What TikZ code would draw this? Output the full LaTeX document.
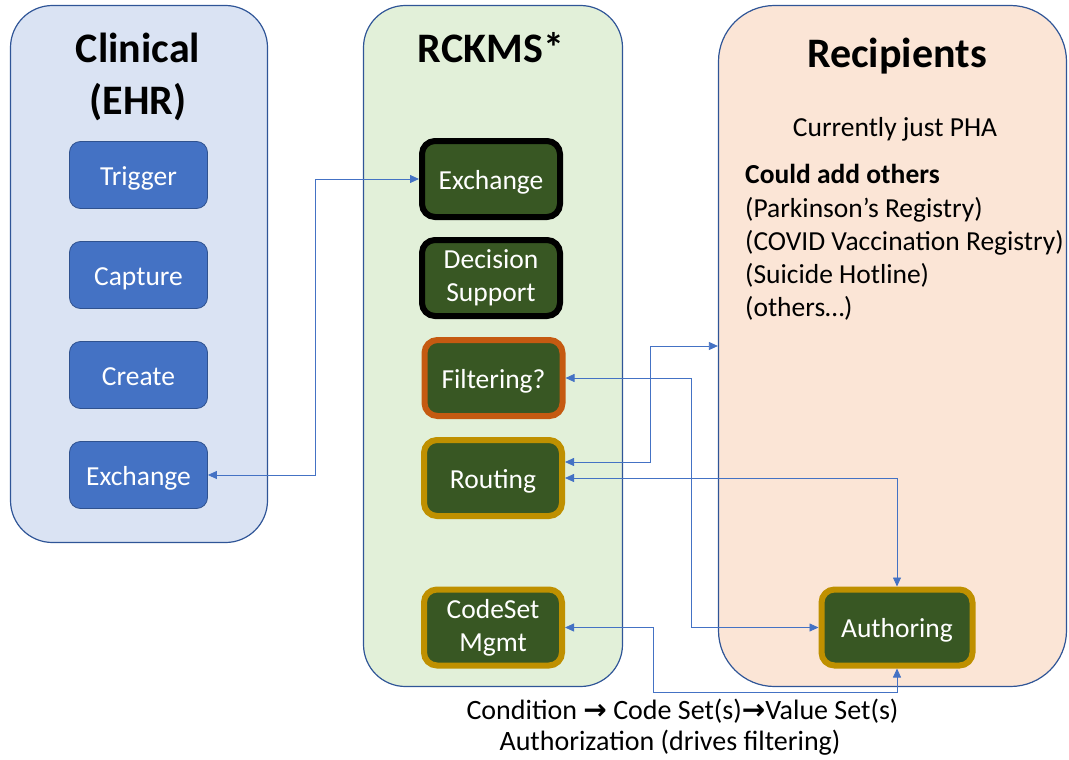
\documentclass[tikz,border=0pt]{standalone}
\usepackage{fontspec}
\setmainfont{Carlito}
\newfontfamily\arrowfont{DejaVu Sans}
\usetikzlibrary{arrows.meta}
\definecolor{ehrfill}{HTML}{DAE3F3}
\definecolor{svcfill}{HTML}{E2F0D9}
\definecolor{recfill}{HTML}{FBE5D6}
\definecolor{panelline}{HTML}{2F5597}
\definecolor{ehrblue}{HTML}{4472C4}
\definecolor{ehrline}{HTML}{2F528F}
\definecolor{svcgreen}{HTML}{385723}
\definecolor{orangeline}{HTML}{C55A11}
\definecolor{goldline}{HTML}{BF9000}
\definecolor{linkblue}{HTML}{4472C4}
\tikzset{
  panel/.style={draw=panelline, line width=1.2pt, rounded corners=42pt, inner sep=0pt},
  title/.style={font=\fontsize{42}{46}\selectfont\bfseries, anchor=base},
  body/.style={font=\fontsize{27.5}{33}\selectfont, inner sep=0pt},
  boxtext/.style={body, text height=25pt, text depth=5pt},
  twolines/.style={text height={}, text depth={}, execute at begin node={\rule{0pt}{25pt}}},
  ehrbox/.style={draw=ehrline, fill=ehrblue, line width=0.8pt, rounded corners=11pt,
    minimum width=138pt, minimum height=67pt, text=white, boxtext},
  svcbox/.style={fill=svcgreen, line width=6pt, rounded corners=13pt,
    minimum width=138pt, minimum height=76pt, text=white, align=center, boxtext},
  link/.style={draw=linkblue, line width=0.8pt, >={Triangle[length=9pt,width=8pt]}, <->},
}
\begin{document}
\begin{tikzpicture}[x=1pt,y=-1pt]
        \useasboundingbox (0,0) rectangle (1069,760);

        % the three columns
        \node[panel, fill=ehrfill, minimum width=257pt, minimum height=537pt] (ehr) at (139,274) {};
        \node[panel, fill=svcfill, minimum width=259pt, minimum height=681pt] (rckms) at (493,346) {};
        \node[panel, fill=recfill, rounded corners=56pt, minimum width=348pt, minimum height=681pt] (recip) at (892.5,346) {};

        % headings
        \node[title] (ehrtitle) at (138,63) {Clinical};
        \node[title] (ehrsub) at (138,114) {(EHR)};
        \node[title] (rckmstitle) at (491,63) {RCKMS*};
        \node[title] (reciptitle) at (897,67) {Recipients};

        % clinical steps
        \foreach \name/\txt [count=\i] in {trig/Trigger, capt/Capture, crea/Create, cex/Exchange}{
          \node[ehrbox] (\name) at (138.5,75+100*\i) {\txt};
        }

        % rckms services
        \node[svcbox, draw=black] (rex) at (491,179) {Exchange};
        \node[svcbox, twolines, draw=black] (dss) at (491,278) {Decision\\Support};
        \node[svcbox, draw=orangeline] (filt) at (493.5,378) {Filtering?};
        \node[svcbox, draw=goldline] (rout) at (493,478) {Routing};
        \node[svcbox, twolines, draw=goldline] (code) at (493,627.5) {CodeSet\\Mgmt};
        \node[svcbox, draw=goldline, minimum width=151pt] (auth) at (897,627.5) {Authoring};

        % recipients text
        \node[body, anchor=base] (pha) at (895,136) {Currently just PHA};
        \node[body, anchor=base west, font=\fontsize{27.5}{33}\selectfont\bfseries] (others) at (745,183) {Could add others};
        \foreach \txt/\y [count=\i] in {{(Parkinson’s Registry)}/217, {(COVID Vaccination Registry)}/250,
            {(Suicide Hotline)}/283, {(others…)}/316}{
          \node[body, anchor=base west] (reg\i) at (745,\y) {\txt};
        }

        % notes under the columns
        \node[body, anchor=base, font=\fontsize{28}{33}\selectfont] (chain) at (682.5,719) {Condition {\arrowfont\bfseries →} Code Set(s){\arrowfont\bfseries →}Value Set(s)};
        \node[body, anchor=base, font=\fontsize{28}{33}\selectfont] (authz) at (670,750) {Authorization (drives filtering)};

        % connectors
        \draw[link] (cex.east) -- ++(107,0) |- (rex.west);
        \draw[link] ([yshift=16pt]rout.east) -- ++(85,0) |- (recip.west);
        \draw[link] (filt.east) -- ++(126,0) |- (auth.west);
        \draw[link] (rout.east) -| (auth.north);
        \draw[link] (code.east) -- ++(88,0) -- ++(0,65) -| (auth.south);
    \end{tikzpicture}
\end{document}
